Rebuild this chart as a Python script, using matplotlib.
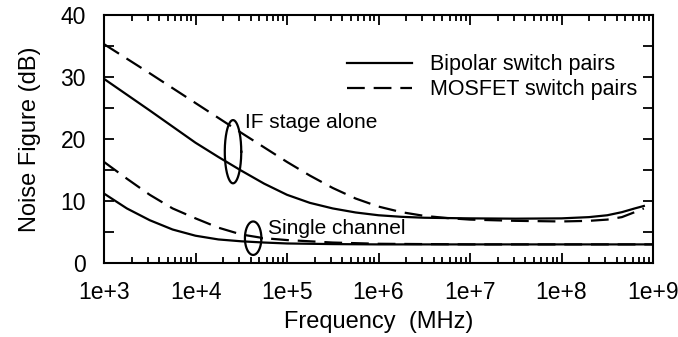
import numpy as np
import matplotlib
matplotlib.use('Agg')
import matplotlib.pyplot as plt
from matplotlib.ticker import FixedLocator, FuncFormatter, MultipleLocator

plt.rcParams['font.family'] = ['Liberation Sans', 'DejaVu Sans']

# log10 of frequency (MHz) and noise figure (dB)
if_bip_logf = [3.0, 3.5, 3.75, 4.0, 4.25, 4.5, 4.75, 5.0, 5.25, 5.5, 5.75, 6.0, 6.25, 6.5,
               7.0, 7.5, 8.0, 8.3, 8.5, 8.66, 8.8, 8.9]
if_bip_nf = [29.7, 24.6, 22.0, 19.4, 17.1, 14.9, 12.8, 11.0, 9.7, 8.8, 8.15, 7.7, 7.45, 7.3,
             7.2, 7.15, 7.2, 7.4, 7.7, 8.2, 8.8, 9.2]

if_mos_logf = [3.0, 3.5, 4.0, 4.5, 5.0, 5.25, 5.5, 5.75, 6.0, 6.25, 6.5, 6.75, 7.0, 7.5,
               8.0, 8.3, 8.5, 8.66, 8.8, 8.9]
if_mos_nf = [35.3, 30.6, 25.8, 21.0, 16.3, 14.1, 12.1, 10.4, 9.1, 8.2, 7.6, 7.25, 7.0, 6.8,
             6.7, 6.8, 7.0, 7.4, 8.2, 8.8]

sc_bip_logf = [3.0, 3.25, 3.5, 3.75, 4.0, 4.25, 4.5, 4.75, 5.0, 5.5, 6.0, 7.0, 8.0, 9.0]
sc_bip_nf = [11.2, 8.8, 6.9, 5.4, 4.4, 3.8, 3.5, 3.3, 3.15, 3.05, 3.0, 3.0, 3.0, 3.0]

sc_mos_logf = [3.0, 3.25, 3.5, 3.75, 4.0, 4.25, 4.5, 4.75, 5.0, 5.5, 6.0, 7.0, 8.0, 9.0]
sc_mos_nf = [16.3, 13.6, 11.0, 8.8, 7.2, 5.7, 4.6, 4.0, 3.7, 3.3, 3.1, 3.0, 3.0, 3.0]

xtick_exps = [3, 4, 5, 6, 7, 8, 9]

LW = 1.6
DASH = (0, (8, 4))


def ellipse(ax, logc, yc, half_w, half_h):
    t = np.linspace(0, 2 * np.pi, 200)
    ax.plot(10 ** (logc + half_w * np.cos(t)), yc + half_h * np.sin(t), 'k-', lw=LW)


def main():
    fig = plt.figure(figsize=(6.78, 3.37), dpi=100)
    ax = fig.add_axes([104 / 678, 74 / 337, 549 / 678, 248 / 337])

    p1, = ax.plot(10 ** np.array(if_bip_logf), if_bip_nf, 'k-', lw=LW, label='Bipolar switch pairs')
    p2, = ax.plot(10 ** np.array(if_mos_logf), if_mos_nf, color='k', ls=DASH, lw=LW, label='MOSFET switch pairs')
    ax.plot(10 ** np.array(sc_bip_logf), sc_bip_nf, 'k-', lw=LW)
    ax.plot(10 ** np.array(sc_mos_logf), sc_mos_nf, color='k', ls=DASH, lw=LW)

    ellipse(ax, 4.41, 17.95, 0.09, 5.1)
    ellipse(ax, 4.63, 4.0, 0.09, 2.7)
    ax.text(10 ** 4.54, 22.6, 'IF stage alone', fontsize=15, va='center', ha='left')
    ax.text(10 ** 4.79, 5.5, 'Single channel', fontsize=15, va='center', ha='left')

    ax.set_xscale('log')
    ax.set_xlim(1e3, 1e9)
    ax.set_ylim(0, 40)
    ax.xaxis.set_major_locator(FixedLocator([10.0 ** e for e in xtick_exps]))
    ax.xaxis.set_major_formatter(FuncFormatter(lambda v, p: '1e+%d' % round(np.log10(v))))
    ax.yaxis.set_major_locator(MultipleLocator(10))
    ax.yaxis.set_minor_locator(MultipleLocator(5))

    ax.tick_params(which='both', direction='in', top=True, right=True, width=1.3, labelsize=16.5)
    ax.tick_params(axis='x', which='major', length=7, pad=13)
    ax.tick_params(axis='x', which='minor', length=4)
    ax.tick_params(axis='y', which='both', length=7, pad=13)
    for s in ax.spines.values():
        s.set_linewidth(1.5)

    ax.set_xlabel('Frequency  (MHz)', fontsize=17, labelpad=5)
    ax.set_ylabel('Noise Figure (dB)', fontsize=17, labelpad=14)

    ax.legend(handles=[p1, p2], loc='upper left', bbox_to_anchor=(0.4426, 0.841),
              frameon=False, fontsize=15.5, handlelength=3.0, handletextpad=0.85,
              labelspacing=0.18, borderpad=0, borderaxespad=0)

    plt.savefig('out.png', dpi=100)


if __name__ == '__main__':
    main()
